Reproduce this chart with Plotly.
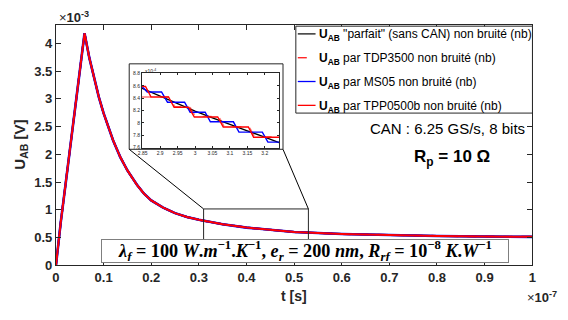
import plotly.graph_objects as go

# ---------------- data (t in 1e-7 s, U in 1e-3 V) ----------------
t_main = [0, 0.005, 0.01, 0.02, 0.03, 0.04, 0.05, 0.06, 0.07, 0.08, 0.09, 0.10,
          0.11, 0.12, 0.135, 0.15, 0.17, 0.185, 0.2, 0.225, 0.25, 0.275, 0.3,
          0.35, 0.4, 0.45, 0.5, 0.6, 0.7, 0.8, 0.9, 1.0]
u_parfait = [0, 0.40, 0.77, 1.45, 2.13, 2.82, 3.50, 4.18, 3.74, 3.36, 3.03, 2.74,
             2.48, 2.25, 1.95, 1.71, 1.45, 1.29, 1.17, 1.04, 0.94, 0.87, 0.82,
             0.74, 0.68, 0.635, 0.60, 0.565, 0.545, 0.53, 0.52, 0.513]
# at full scale the three digitised signals are indistinguishable from the ideal one
u_tdp3500 = list(u_parfait)
u_ms05 = list(u_parfait)
u_tpp0500b = list(u_parfait)

# inset (t in 1e-8 s, U in 1e-4 V)
ti_parfait = [2.848, 2.9, 2.95, 3.0, 3.05, 3.1, 3.15, 3.2, 3.241]
ui_parfait = [8.56, 8.43, 8.31, 8.19, 8.08, 7.97, 7.87, 7.77, 7.68]

ti_ms05 = [2.848, 2.863, 2.904, 2.921, 2.970, 2.986, 3.029, 3.044, 3.110, 3.126, 3.193, 3.209, 3.241]
ui_ms05 = [8.59, 8.50, 8.50, 8.335, 8.335, 8.173, 8.173, 8.017, 8.017, 7.85, 7.85, 7.688, 7.688]

ti_tpp = [2.848, 2.858, 2.874, 2.924, 2.940, 2.982, 2.998, 3.065, 3.081, 3.153, 3.168, 3.241]
ui_tpp = [8.59, 8.59, 8.419, 8.419, 8.252, 8.252, 8.095, 8.095, 7.933, 7.933, 7.766, 7.766]

ti_tdp = [2.848, 2.927, 2.942, 2.985, 3.001, 3.068, 3.084, 3.155, 3.171, 3.241]
ui_tdp = [8.419, 8.419, 8.262, 8.262, 8.105, 8.105, 7.938, 7.938, 7.776, 7.776]

x_ticks = [0, 0.1, 0.2, 0.3, 0.4, 0.5, 0.6, 0.7, 0.8, 0.9, 1]
x_ticktext = ["0", "0.1", "0.2", "0.3", "0.4", "0.5", "0.6", "0.7", "0.8", "0.9", "1"]
y_ticks = [0, 0.5, 1, 1.5, 2, 2.5, 3, 3.5, 4]
y_ticktext = ["0", "0.5", "1", "1.5", "2", "2.5", "3", "3.5", "4"]
xi_ticks = [2.85, 2.9, 2.95, 3.0, 3.05, 3.1, 3.15, 3.2]
xi_ticktext = ["2.85", "2.9", "2.95", "3", "3.05", "3.1", "3.15", "3.2"]
yi_ticks = [7.6, 7.8, 8.0, 8.2, 8.4, 8.6, 8.8]
yi_ticktext = ["7.6", "7.8", "8", "8.2", "8.4", "8.6", "8.8"]

legend_labels = ['<b>U<sub>AB</sub></b> "parfait" (sans CAN) non bruité (nb)',
                 '<b>U<sub>AB</sub></b> par TDP3500 non bruité (nb)',
                 '<b>U<sub>AB</sub></b> par MS05 non bruité (nb)',
                 '<b>U<sub>AB</sub></b> par TPP0500b non bruité (nb)']

# ---------------- layout helpers ----------------
W, H = 568, 320
def px(x): return x / W
def py(y): return 1 - y / H

MX0, MX1, MY0, MY1 = 52.7, 535.8, 271.7, 22.7      # main axes box (pixels)
IX0, IX1, IY0, IY1 = 140.0, 279.0, 149.7, 73.0     # inset axes box (pixels)
OX0, OX1, OY0, OY1 = 127.0, 283.0, 151.5, 63.0     # inset frame (pixels)
XR = [0, 1]
YR = [0, 4.33]

def data_to_px(t, u):
    x = MX0 + (t - XR[0]) / (XR[1] - XR[0]) * (MX1 - MX0)
    y = MY0 - (u - YR[0]) / (YR[1] - YR[0]) * (MY0 - MY1)
    return x, y

BLACK = "#000000"
RED = "#ff0000"
BLUE = "#0000ff"
AX = "#262626"
FONT = "Liberation Sans, Arial, sans-serif"

fig = go.Figure()

# main traces
fig.add_trace(go.Scatter(x=t_main, y=u_parfait, mode="lines", line=dict(color=BLACK, width=2), showlegend=False))
fig.add_trace(go.Scatter(x=t_main, y=u_tdp3500, mode="lines", line=dict(color=RED, width=2, dash="dash"), showlegend=False))
fig.add_trace(go.Scatter(x=t_main, y=u_ms05, mode="lines", line=dict(color=BLUE, width=2.6), showlegend=False))
fig.add_trace(go.Scatter(x=t_main, y=u_tpp0500b, mode="lines", line=dict(color=RED, width=2), showlegend=False))

# inset traces
fig.add_trace(go.Scatter(x=ti_parfait, y=ui_parfait, mode="lines", line=dict(color=BLACK, width=1.4), xaxis="x2", yaxis="y2", showlegend=False))
fig.add_trace(go.Scatter(x=ti_tdp, y=ui_tdp, mode="lines", line=dict(color="rgba(255,0,0,0.55)", width=1.4, dash="dash"), xaxis="x2", yaxis="y2", showlegend=False))
fig.add_trace(go.Scatter(x=ti_ms05, y=ui_ms05, mode="lines", line=dict(color=BLUE, width=1.4), xaxis="x2", yaxis="y2", showlegend=False))
fig.add_trace(go.Scatter(x=ti_tpp, y=ui_tpp, mode="lines", line=dict(color=RED, width=1.4), xaxis="x2", yaxis="y2", showlegend=False))

axis_common = dict(showgrid=False, zeroline=False, showline=True, linecolor=AX, linewidth=1,
                   mirror="ticks", ticks="inside", tickcolor=AX)

fig.update_layout(
    width=W, height=H,
    margin=dict(l=0, r=0, t=0, b=0),
    paper_bgcolor="white",
    plot_bgcolor="rgba(0,0,0,0)",
    font=dict(family=FONT, color=AX),
    xaxis=dict(domain=[px(MX0), px(MX1)], range=XR, tickvals=x_ticks, ticktext=x_ticktext,
               ticklen=5, tickfont=dict(size=13, family=FONT, color=AX, weight="bold"), **axis_common),
    yaxis=dict(domain=[py(MY0), py(MY1)], range=YR, tickvals=y_ticks, ticktext=y_ticktext,
               ticklen=5, tickfont=dict(size=13, family=FONT, color=AX, weight="bold"), **axis_common),
    xaxis2=dict(domain=[px(IX0), px(IX1)], range=[2.848, 3.241], anchor="y2", tickvals=xi_ticks,
                ticktext=xi_ticktext, ticklen=2, tickfont=dict(size=5, color=AX), **axis_common),
    yaxis2=dict(domain=[py(IY0), py(IY1)], range=[7.6, 8.8], anchor="x2", tickvals=yi_ticks,
                ticktext=yi_ticktext, ticklen=2, tickfont=dict(size=5, color=AX), **axis_common),
)

shapes = []
# inset white frame
shapes.append(dict(type="rect", xref="paper", yref="paper", x0=px(OX0), x1=px(OX1), y0=py(OY0), y1=py(OY1),
                   line=dict(color=AX, width=1), fillcolor="white", layer="below"))
# zoom rectangle on main axes
zx0, zx1, zy0, zy1 = 0.31, 0.53, 0.40, 1.016
shapes.append(dict(type="rect", xref="x", yref="y", x0=zx0, x1=zx1, y0=zy0, y1=zy1,
                   line=dict(color=AX, width=1), layer="above"))
# connectors
ax0, ay0 = data_to_px(zx0, zy1)
ax1, ay1 = data_to_px(zx1, zy1)
shapes.append(dict(type="line", xref="paper", yref="paper", x0=px(ax0), y0=py(ay0), x1=px(OX0), y1=py(OY0),
                   line=dict(color=BLACK, width=1), layer="above"))
shapes.append(dict(type="line", xref="paper", yref="paper", x0=px(ax1), y0=py(ay1), x1=px(OX1), y1=py(OY0),
                   line=dict(color=BLACK, width=1), layer="above"))

# manual legend
LX0, LX1, LY0, LY1 = 296.0, 536.0, 114.0, 24.0
shapes.append(dict(type="rect", xref="paper", yref="paper", x0=px(LX0), x1=px(LX1), y0=py(LY0), y1=py(LY1),
                   line=dict(color=AX, width=1), fillcolor="white", layer="above"))
leg_y = [32, 56.7, 81.3, 106]
leg_styles = [dict(color=BLACK, width=1.2), dict(color=RED, width=1.2, dash="dash"),
              dict(color=BLUE, width=1.3), dict(color=RED, width=1.3)]
annotations = []
for yy, st, lab in zip(leg_y, leg_styles, legend_labels):
    shapes.append(dict(type="line", xref="paper", yref="paper", x0=px(298), x1=px(316), y0=py(yy), y1=py(yy),
                       line=st, layer="above"))
    annotations.append(dict(xref="paper", yref="paper", x=px(317), y=py(yy + 1.5), text=lab, showarrow=False,
                            xanchor="left", yanchor="middle", font=dict(size=12, family=FONT, color=BLACK)))

fig.update_layout(shapes=shapes)

annotations += [
    dict(xref="paper", yref="paper", x=px(54), y=py(14), text="×<b>10<sup>-3</sup></b>", showarrow=False,
         xanchor="left", yanchor="middle", font=dict(size=13, family=FONT, color=AX)),
    dict(xref="paper", yref="paper", x=px(563), y=py(304), text="×<b>10<sup>-7</sup></b>", showarrow=False,
         xanchor="right", yanchor="middle", font=dict(size=13, family=FONT, color=AX)),
    dict(xref="paper", yref="paper", x=px(17), y=py(147), text="<b>U<sub>AB</sub> [V]</b>", showarrow=False,
         textangle=-90, xanchor="center", yanchor="middle", font=dict(size=15, family=FONT, color=AX)),
    dict(xref="paper", yref="paper", x=px((MX0 + MX1) / 2), y=py(303), text="<b>t [s]</b>", showarrow=False,
         xanchor="center", yanchor="middle", font=dict(size=14, family=FONT, color=AX)),
    dict(xref="paper", yref="paper", x=px(369), y=py(130), text="CAN : 6.25 GS/s, 8 bits", showarrow=False,
         xanchor="left", yanchor="middle", font=dict(size=15, family=FONT, color=BLACK)),
    dict(xref="paper", yref="paper", x=px(414), y=py(160), text="<b>R<sub>p</sub> = 10 Ω</b>", showarrow=False,
         xanchor="left", yanchor="middle", font=dict(size=17, family=FONT, color=BLACK)),
    dict(xref="paper", yref="paper", x=px(IX0 + 0.5), y=py(70), text="x10<sup>-4</sup>", showarrow=False,
         xanchor="left", yanchor="middle", font=dict(size=5, family=FONT, color=AX)),
    dict(xref="paper", yref="paper", x=px(305), y=py(257),
         text="<b><i>λ<sub>f</sub></i> = 100 <i>W</i>.<i>m</i><sup>−1</sup>.<i>K</i><sup>−1</sup>, "
              "<i>e<sub>r</sub></i> = 200 <i>nm</i>, <i>R<sub>rf</sub></i> = 10<sup>−8</sup> "
              "<i>K</i>.<i>W</i><sup>−1</sup></b>",
         showarrow=False, xanchor="center", yanchor="middle", width=404, height=20, align="center",
         bgcolor="white", bordercolor="#7f7f7f", borderwidth=1, borderpad=1,
         font=dict(size=18.2, family="Liberation Serif, serif", color=BLACK)),
]
fig.update_layout(annotations=annotations)

fig.write_html("out.html", config={"displayModeBar": False},
               post_script="document.body.style.margin='0';")
